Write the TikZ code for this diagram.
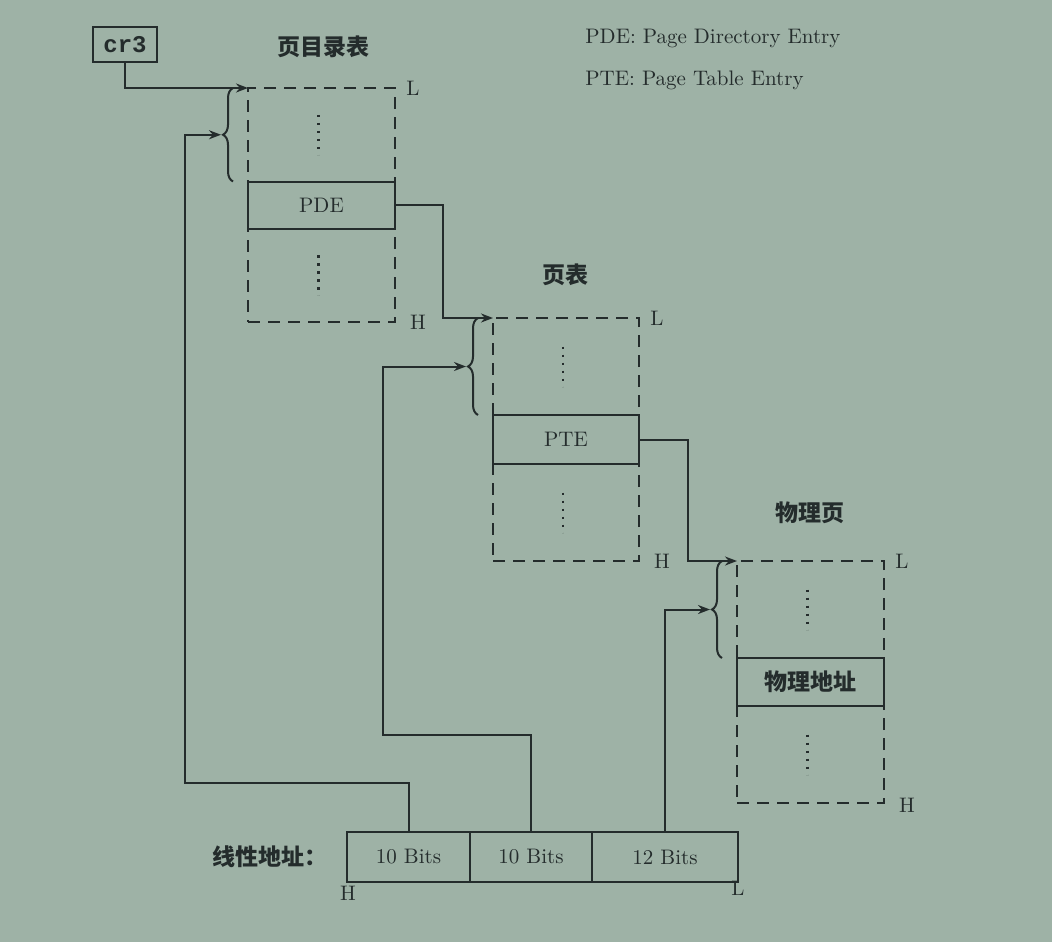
\documentclass[tikz,border=0pt]{standalone}
\usepackage{fontspec}
\newfontfamily\cjk{Noto Sans CJK SC}
\newfontfamily\codefont{Liberation Mono}
\usetikzlibrary{arrows.meta,calc,decorations.pathreplacing}
\definecolor{paper}{RGB}{158,178,166}
\definecolor{ink}{RGB}{36,44,44}
\tikzset{
  line/.style={draw=ink, line width=1pt},
  flow/.style={line, -{Stealth[length=6pt,width=4.5pt]}},
  tablebox/.style={draw=ink, line width=1pt, dash pattern=on 6pt off 4pt,
    inner sep=0pt, outer sep=0pt, minimum width=73.5pt},
  entrybox/.style={draw=ink, line width=1pt, fill=paper, inner sep=0pt, outer sep=0pt,
    minimum width=73.5pt, minimum height=24pt, text=ink, font=\fontsize{10.5}{12}\selectfont},
  fieldbox/.style={draw=ink, line width=1pt, inner sep=0pt, outer sep=0pt,
    minimum height=25pt, text=ink, font=\fontsize{10.5}{12}\selectfont},
  codebox/.style={draw=ink, line width=1pt, inner sep=0pt, minimum width=32pt,
    minimum height=17.5pt, text=ink, font=\codefont\bfseries\fontsize{12}{14}\selectfont},
  title/.style={text=ink, inner sep=0pt, font=\cjk\bfseries\fontsize{11.5}{14}\selectfont},
  legend/.style={text=ink, inner sep=0pt, font=\fontsize{10.5}{12}\selectfont},
  endlabel/.style={text=ink, inner sep=0pt, font=\fontsize{10.5}{12}\selectfont},
  ellipsis/.style={draw=ink, line width=1.3pt, dash pattern=on 1.3pt off 2.7pt},
  entrybrace/.style={line, decorate, decoration={brace, amplitude=5pt}},
}
\begin{document}
\begin{tikzpicture}[x=0.5pt,y=-0.5pt]
  \fill[paper] (0,0) rectangle (1052,942);
  \useasboundingbox (0,0) rectangle (1052,942);

  % register and legend
  \node[codebox] (cr3) at (125,44.5) {cr3};
  \node[legend, anchor=west] (pdelegend) at (585,38) {PDE: Page Directory Entry};
  \node[legend, anchor=west] (ptelegend) at (585,80) {PTE: Page Table Entry};

  % page directory
  \node[title] (pdttitle) at (323,47) {页目录表};
  \node[tablebox, minimum height=117pt] (pdt) at (321.5,205) {};
  \node[entrybox, minimum height=23.5pt] (pde) at (pdt.center) {PDE};
  \node[endlabel] (pdtL) at ($(pdt.north east)+(18,0)$) {L};
  \node[endlabel] (pdtH) at ($(pdt.south east)+(23,0)$) {H};

  % page table
  \node[title] (pttitle) at (565,275) {页表};
  \node[tablebox, minimum width=73pt, minimum height=121.5pt] (pt) at (566,439.5) {};
  \node[entrybox, minimum width=73pt, minimum height=24.5pt] (pte) at (pt.center) {PTE};
  \node[endlabel] (ptL) at ($(pt.north east)+(18,0)$) {L};
  \node[endlabel] (ptH) at ($(pt.south east)+(23,0)$) {H};

  % physical page
  \node[title] (pptitle) at (810,513) {物理页};
  \node[tablebox, minimum height=121pt] (pp) at (810.5,682) {};
  \node[entrybox, font=\cjk\bfseries\fontsize{11.5}{14}\selectfont] (pa) at (pp.center) {物理地址};
  \node[endlabel] (ppL) at ($(pp.north east)+(18,0)$) {L};
  \node[endlabel] (ppH) at ($(pp.south east)+(23,2)$) {H};

  % vertical ellipses above and below each entry
  \foreach \tb/\en in {pdt/pde, pt/pte, pp/pa} {
    \draw[ellipsis] ($(\tb.north)!0.5!(\en.north)+(-3,-20)$) -- ++(0,40);
    \draw[ellipsis] ($(\tb.south)!0.5!(\en.south)+(-3,-20)$) -- ++(0,40);
  }

  % braces in front of each table
  \draw[entrybrace] ($(pde.north west)+(-15,0)$) -- ($(pdt.north west)+(-15,0)$);
  \draw[entrybrace] ($(pte.north west)+(-15,0)$) -- ($(pt.north west)+(-15,0)$);
  \draw[entrybrace] ($(pa.north west)+(-15,0)$) -- ($(pp.north west)+(-15,0)$);
  \coordinate (pdtin) at ($(pdt.north west)!0.5!(pde.north west)+(-25,0)$);
  \coordinate (ptin) at ($(pt.north west)!0.5!(pte.north west)+(-25,0)$);
  \coordinate (ppin) at ($(pp.north west)!0.5!(pa.north west)+(-25,0)$);

  % linear address
  \node[title, anchor=west] (addrlabel) at (212,857) {线性地址：};
  \node[fieldbox, minimum width=61.5pt] (f1) at (408.5,857) {10 Bits};
  \node[fieldbox, minimum width=61pt, anchor=west] (f2) at (f1.east) {10 Bits};
  \node[fieldbox, minimum width=73pt, anchor=west] (f3) at (f2.east) {12 Bits};
  \node[endlabel] (addrH) at ($(f1.south west)+(1,11)$) {H};
  \node[endlabel] (addrL) at ($(f3.south east)+(0,6)$) {L};

  % connectors
  \coordinate (bend1) at (185,783);
  \coordinate (bend2) at (383,735);
  \draw[flow] (cr3.south) |- (pdt.north west);
  \draw[flow, shorten >=1pt] (f1.north) |- (bend1) |- (pdtin);
  \draw[flow] (pde.east) -| ($(pt.north west)+(-50,0)$) -- (pt.north west);
  \draw[flow, shorten >=1pt] (f2.north) |- (bend2) |- (ptin);
  \draw[flow] (pte.east) -| ($(pp.north west)+(-49,0)$) -- (pp.north west);
  \draw[flow, shorten >=1pt] (f3.north) |- (ppin);
\end{tikzpicture}
\end{document}
